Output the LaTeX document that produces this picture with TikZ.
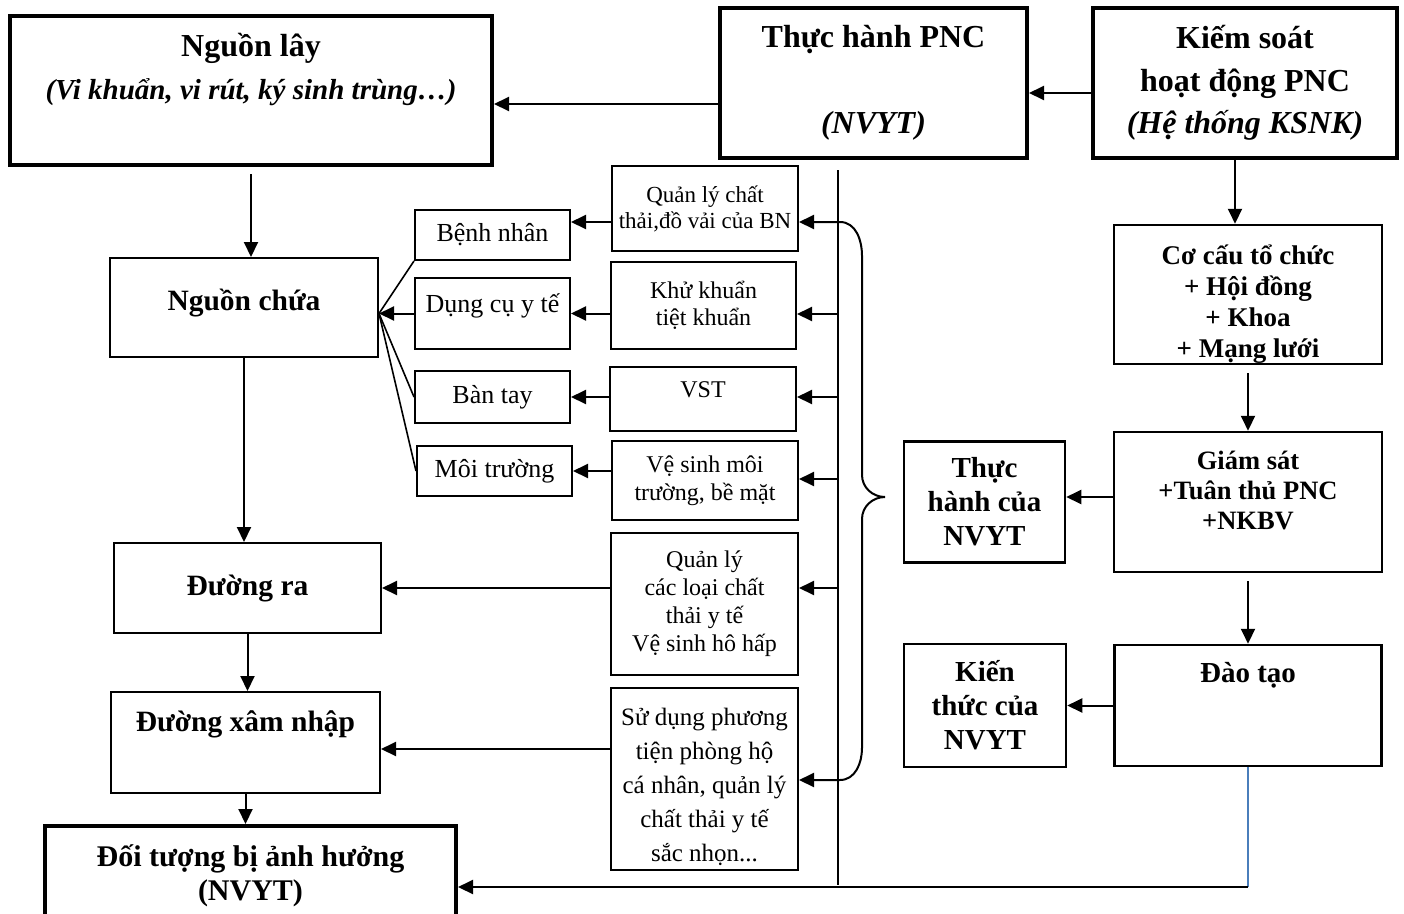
\documentclass[tikz,border=0pt]{standalone}
\usepackage{fontspec}
\setmainfont{Liberation Serif}
\usetikzlibrary{arrows.meta, calc}
\definecolor{wordblue}{HTML}{4A7EBB}

\tikzset{
  head/.style={draw, line width=4pt, inner sep=0pt, align=center,
    font=\bfseries\fontsize{32}{42.5}\selectfont},
  chain/.style={draw, line width=2pt, inner sep=0pt, align=center,
    font=\bfseries\fontsize{29.5}{34}\selectfont},
  src/.style={draw, line width=2pt, inner sep=0pt, align=center,
    font=\fontsize{26}{30}\selectfont},
  act/.style={draw, line width=2pt, inner sep=0pt, align=center,
    font=\fontsize{24}{27}\selectfont},
  ctrl/.style={draw, line width=2.5pt, inner sep=0pt, align=center,
    font=\bfseries\fontsize{27}{31}\selectfont},
  wh/.style 2 args={minimum width=#1pt, minimum height=#2pt},
  tip/.tip={Triangle[length=15pt,width=14pt]},
  arr/.style={-tip, line width=2pt},
}

\begin{document}
\begin{tikzpicture}[x=1pt, y=-1pt]
  \useasboundingbox (0,0) rectangle (1404,913);
  % hàng trên
  \node[head, wh={482}{149}] (nguon) at (251,90.5)
    {Nguồn lây\\ \textit{\fontsize{29}{42.5}\selectfont(Vi khuẩn, vi rút, ký sinh trùng…)}\\[6pt] ~};
  \node[head, wh={307}{150}] (thuc) at (873.5,83) {Thực hành PNC\\[43pt] \textit{(NVYT)}};
  \node[head, wh={304}{150}] (kiem) at (1245,83) {Kiếm soát\\ hoạt động PNC\\ \textit{(Hệ thống KSNK)}};

  % cột trái
  \node[chain, wh={268}{99}, text depth=15pt] (chua) at (244,307.5) {Nguồn chứa};
  \node[chain, wh={267}{90}] (ra) at (247.5,588) {Đường ra};
  \node[chain, wh={269}{101}, text depth=43pt] (xam) at (245.5,742.5) {Đường xâm nhập};
  \node[head, wh={411}{99}, font=\bfseries\fontsize{30}{34}\selectfont] (doi) at (250.5,875.5)
    {Đối tượng bị ảnh hưởng\\ (NVYT)};

  \node[src, wh={155}{50}] (bn) at (492.5,235) {Bệnh nhân};
  \node[src, wh={155}{71}, text depth=21pt] (dc) at (492.5,313.5) {Dụng cụ y tế};
  \node[src, wh={155}{52}] (bt) at (492.5,397) {Bàn tay};
  \node[src, wh={155}{50}] (mt) at (494.5,471) {Môi trường};

  % cột giữa
  \node[act, wh={186}{85}, font=\fontsize{23}{26}\selectfont] (qlct) at (705,208.5)
    {Quản lý chất\\ thải,đồ vải của BN};
  \node[act, wh={185}{87}] (kk) at (703.5,305.5) {Khử khuẩn\\ tiệt khuẩn};
  \node[act, wh={186}{64}, text depth=19pt] (vst) at (703,399) {VST};
  \node[act, wh={186}{79}, font=\fontsize{24}{28}\selectfont] (vsmt) at (705,480.5)
    {Vệ sinh môi\\ trường, bề mặt};
  \node[act, wh={187}{142}, font=\fontsize{24}{28}\selectfont] (qlcl) at (704.5,604)
    {Quản lý\\ các loại chất\\ thải y tế\\ Vệ sinh hô hấp};
  \node[act, wh={187}{182}, font=\fontsize{25}{34}\selectfont] (sdpt) at (704.5,779)
    {~\\ Sử dụng phương\\ tiện phòng hộ\\ cá nhân, quản lý\\ chất thải y tế\\ sắc nhọn...};

  % cột phải
  \node[ctrl, wh={268}{139}] (coco) at (1248,294.5)
    {~\\[8pt] Cơ cấu tổ chức\\ + Hội đồng\\ + Khoa\\ + Mạng lưới};
  \node[ctrl, wh={268}{140}, font=\bfseries\fontsize{26.5}{30}\selectfont] (gs) at (1248,502)
    {Giám sát\\ +Tuân thủ PNC\\ +NKBV\\[-6pt] ~};
  \node[ctrl, wh={161}{121}, font=\bfseries\fontsize{29}{34}\selectfont] (thcua) at (984.5,502)
    {Thực\\ hành của\\ NVYT};
  \node[ctrl, wh={267}{121}, font=\bfseries\fontsize{29}{34}\selectfont, text depth=67pt] (dt) at (1248,705.5)
    {Đào tạo};
  \node[ctrl, wh={162}{123}, font=\bfseries\fontsize{29}{34}\selectfont] (ktc) at (985,705.5)
    {Kiến\\ thức của\\ NVYT};

  % mũi tên hàng trên
  \draw[arr] (kiem.west |- 0,93) -- (thuc.east |- 0,93);
  \draw[arr] (thuc.west |- 0,104) -- (nguon.east |- 0,104);
  \draw[arr] (kiem.south -| 1235,0) -- (coco.north -| 1235,0);

  % chuỗi lây truyền
  \draw[arr] ([yshift=-7pt]nguon.south) -- (nguon.south |- chua.north);
  \draw[arr] (chua.south) -- (chua.south |- ra.north);
  \draw[arr] (ra.south) -- (ra.south |- xam.north);
  \draw[arr] (xam.south) -- (xam.south |- doi.north);

  \coordinate (fan) at (chua.east |- dc.west);
  \draw[arr] (dc.west) -- (fan);
  \foreach \s in {bn.south west, bt.west, mt.west}
    \draw[line width=1.6pt] (\s) -- (fan);

  \draw[arr] (qlct.west |- 0,222) -- (bn.east |- 0,222);
  \draw[arr] (kk.west |- dc.east) -- (dc.east);
  \draw[arr] (vst.west |- bt.east) -- (bt.east);
  \draw[arr] (vsmt.west |- mt.east) -- (mt.east);
  \draw[arr] (qlcl.west |- ra.east) -- (ra.east);
  \draw[arr] (sdpt.west |- 0,749) -- (xam.east |- 0,749);

  % thanh dọc và ngoặc
  \coordinate (bar1) at (838,170);
  \coordinate (bar2) at (838,885);
  \draw[line width=2pt] (bar1) -- (bar2);
  \foreach \n/\y in {kk/314, vst/397, vsmt/479, qlcl/588}
    \draw[arr] (bar1 |- 0,\y) -- (\n.east |- 0,\y);
  \coordinate (brace) at (885,497);
  \draw[tip-tip, line width=2pt]
    (qlct.east |- 0,222) -- (840,222) to[out=0,in=90] (862,256)
    -- (862,475) to[out=-90,in=180] (brace) to[out=180,in=90] (862,519)
    -- (862,748) to[out=-90,in=0] (840,780) -- (sdpt.east |- 0,780);

  % kiểm soát
  \draw[arr] ([yshift=-8pt]coco.south) -- (gs.north);
  \draw[arr] ([yshift=-8pt]gs.south) -- (dt.north);
  \draw[arr] (gs.west |- 0,497) -- (thcua.east |- 0,497);
  \draw[arr] (dt.west) -- (ktc.east);
  \coordinate (goc) at (dt.south |- 0,887);
  \draw[wordblue, line width=1.5pt] (dt.south) -- (goc);
  \draw[arr] (goc) -- (doi.east |- goc);
\end{tikzpicture}
\end{document}
